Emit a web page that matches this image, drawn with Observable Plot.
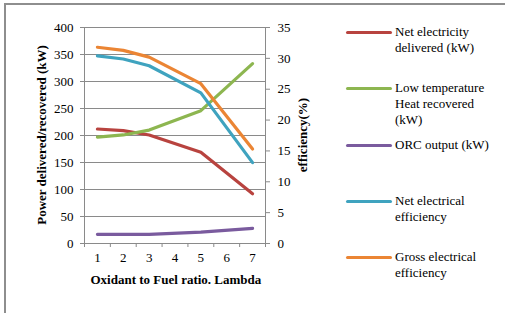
<!DOCTYPE html>
<html>
<head>
<meta charset="utf-8">
<script src="https://cdn.jsdelivr.net/npm/d3@7"></script>
<script src="https://cdn.jsdelivr.net/npm/@observablehq/plot@0.6"></script>
<style>
  html, body { margin: 0; padding: 0; background: #fff; }
  #wrap { position: relative; width: 505px; height: 313px; overflow: hidden; font-family: "Liberation Serif", serif; }
  #frame { position: absolute; left: 4px; top: 3px; width: 600px; height: 400px; border-top: 2px solid #8e8e8e; border-left: 2px solid #8e8e8e; }
  #chart { position: absolute; left: 0; top: 0; }
  #chart svg, #chart svg text { font-family: "Liberation Serif", serif !important; }
  .lg { position: absolute; font-family: "Liberation Serif", serif; font-size: 13px; line-height: 16px; color: #000; white-space: nowrap; }
  .sw { position: absolute; height: 3px; border-radius: 2px; }
  .ttl { position: absolute; font-family: "Liberation Serif", serif; font-size: 13px; font-weight: bold; white-space: nowrap; color: #000; }
</style>
</head>
<body>
<div id="wrap">
  <div id="frame"></div>
  <div id="chart"></div>
</div>
<script>
// Data
const lambda = [1, 2, 3, 5, 7];
const netElectricity = [212, 209, 201, 169, 92];     // kW
const lowTempHeat = [197, 201, 210, 246, 333];       // kW
const orcOutput = [17, 17, 17, 21, 28];              // kW
const netEfficiency = [30.4, 29.9, 28.8, 24.4, 13.1];   // %
const grossEfficiency = [31.8, 31.3, 30.2, 25.9, 15.3]; // %

const categories = [1, 2, 3, 4, 5, 6, 7];
const leftTicks = [0, 50, 100, 150, 200, 250, 300, 350, 400];
const rightTicks = [0, 5, 10, 15, 20, 25, 30, 35];

const seriesNames = [
  "Net electricity delivered (kW)",
  "Low temperature Heat recovered (kW)",
  "ORC output (kW)",
  "Net electrical efficiency",
  "Gross electrical efficiency"
];
const colors = ["#B8433F", "#8DB650", "#7A5B9E", "#3FA3BF", "#EB8534"];

const leftMax = 400, rightMax = 35;
const k = leftMax / rightMax;

const rows = [];
const push = (name, vals, scale) => vals.forEach((v, i) => rows.push({series: name, x: lambda[i], y: v * scale}));
push(seriesNames[0], netElectricity, 1);
push(seriesNames[1], lowTempHeat, 1);
push(seriesNames[2], orcOutput, 1);
push(seriesNames[3], netEfficiency, k);
push(seriesNames[4], grossEfficiency, k);

const boundaries = d3.range(categories.length + 1).map(i => categories[0] - 0.5 + i);

const font = "'Liberation Serif', serif";
const plot = Plot.plot({
  width: 505,
  height: 313,
  marginLeft: 84,
  marginRight: 240,
  marginTop: 27,
  marginBottom: 70,
  style: {fontFamily: font, fontSize: "13px", background: "transparent", color: "#000"},
  x: {domain: [categories[0] - 0.5, categories[categories.length - 1] + 0.5]},
  y: {domain: [0, leftMax]},
  color: {domain: seriesNames, range: colors},
  marks: [
    Plot.gridY(leftTicks, {stroke: "#8a8a8a", strokeOpacity: 1, strokeWidth: 1}),
    Plot.ruleX([categories[0] - 0.5, categories[categories.length - 1] + 0.5], {stroke: "#8a8a8a", strokeWidth: 1}),
    Plot.ruleY([0], {stroke: "#8a8a8a", strokeWidth: 1}),
    Plot.axisY({ticks: leftTicks, anchor: "left", tickSize: 4, tickPadding: 7, label: null, stroke: "#8a8a8a", fill: "#000", fontSize: 13}),
    Plot.axisY({ticks: rightTicks.map(t => t * k), anchor: "right", tickSize: 4, tickPadding: 8, tickFormat: d => Math.round(d / k), textAnchor: "start", label: null, stroke: "#8a8a8a", fill: "#000", fontSize: 13}),
    Plot.axisX({ticks: categories, tickSize: 0, tickPadding: 9, tickFormat: d => d, label: null, fill: "#000", fontSize: 13}),
    Plot.axisX({ticks: boundaries, tickSize: 4, tickFormat: () => "", label: null, stroke: "#8a8a8a"}),
    Plot.line(rows, {x: "x", y: "y", z: "series", stroke: "series", strokeWidth: 3.2, strokeLinecap: "round", strokeLinejoin: "round"})
  ]
});
document.getElementById("chart").appendChild(plot);

// Axis titles
const wrap = document.getElementById("wrap");
function title(text, cx, cy, rotate) {
  const d = document.createElement("div");
  d.className = "ttl";
  d.textContent = text;
  wrap.appendChild(d);
  const w = d.offsetWidth, h = d.offsetHeight;
  d.style.left = (cx - w / 2) + "px";
  d.style.top = (cy - h / 2) + "px";
  if (rotate) d.style.transform = "rotate(-90deg)";
}
title("Power delivered/recovered (kW)", 42, 135, true);
title("efficiency(%)", 303, 135, true);
title("Oxidant to Fuel ratio. Lambda", 176, 280, false);

// Legend
const legendLines = [
  ["Net electricity", "delivered (kW)"],
  ["Low temperature", "Heat recovered", "(kW)"],
  ["ORC output (kW)"],
  ["Net electrical", "efficiency"],
  ["Gross electrical", "efficiency"]
];
const legendY = [32, 88, 145, 201, 257];
legendLines.forEach((lines, i) => {
  const sw = document.createElement("div");
  sw.className = "sw";
  sw.style.left = "346px";
  sw.style.width = "46px";
  sw.style.top = (legendY[i] - 1.5) + "px";
  sw.style.background = colors[i];
  wrap.appendChild(sw);
  const t = document.createElement("div");
  t.className = "lg";
  t.style.left = "395px";
  t.style.top = (legendY[i] - 8) + "px";
  t.innerHTML = lines.join("<br>");
  wrap.appendChild(t);
});
</script>
</body>
</html>
